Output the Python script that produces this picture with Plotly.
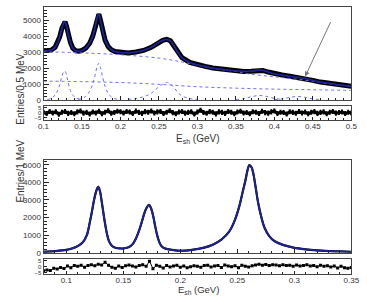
import plotly.graph_objects as go

# ---------------- top panel (0.5 MeV bins) ----------------
top_E = [0.100, 0.105, 0.110, 0.115, 0.118, 0.121, 0.124, 0.1265, 0.128, 0.130, 0.132, 0.135, 0.138,
         0.142, 0.146, 0.150, 0.155, 0.160, 0.164, 0.167, 0.170, 0.172, 0.174, 0.177, 0.180, 0.184,
         0.188, 0.193, 0.200, 0.210, 0.220, 0.230, 0.240, 0.248, 0.255, 0.260, 0.265, 0.270, 0.275,
         0.280, 0.290, 0.300, 0.310, 0.320, 0.330, 0.340, 0.350, 0.360, 0.370, 0.378, 0.385, 0.392,
         0.400, 0.410, 0.420, 0.430, 0.440, 0.450, 0.460, 0.470, 0.480, 0.490, 0.500]
top_counts = [3100, 3080, 3120, 3300, 3550, 3950, 4500, 4850, 4900, 4600, 4100, 3600, 3250,
              3080, 3050, 3100, 3250, 3550, 4000, 4550, 5200, 5380, 5000, 4300, 3750, 3350,
              3150, 3030, 2970, 2950, 3000, 3100, 3300, 3550, 3730, 3800, 3700, 3350, 2950,
              2650, 2350, 2200, 2100, 2000, 1930, 1870, 1820, 1790, 1800, 1860, 1850, 1750,
              1640, 1560, 1480, 1420, 1350, 1230, 1120, 1050, 980, 920, 860]

bkg_E = [0.10, 0.15, 0.20, 0.25, 0.28, 0.30, 0.32, 0.35, 0.364, 0.40, 0.44, 0.47, 0.50]
bkg_total = [3020, 2950, 2830, 2620, 2380, 2180, 1980, 1780, 1650, 1450, 1240, 1020, 850]

bkg2_E = [0.10, 0.15, 0.20, 0.25, 0.30, 0.35, 0.40, 0.45, 0.50]
bkg2 = [1180, 1150, 1090, 980, 830, 740, 680, 640, 600]

pk1_E = [0.105, 0.110, 0.115, 0.118, 0.121, 0.124, 0.1265, 0.128, 0.130, 0.132, 0.135, 0.138, 0.142, 0.146, 0.150]
pk1 = [30, 100, 300, 550, 950, 1500, 1780, 1800, 1550, 1100, 600, 300, 130, 60, 30]
pk2_E = [0.145, 0.150, 0.155, 0.160, 0.164, 0.167, 0.170, 0.172, 0.174, 0.177, 0.180, 0.184, 0.188, 0.193, 0.200]
pk2 = [40, 90, 230, 550, 1000, 1550, 2150, 2300, 2050, 1400, 850, 420, 200, 80, 30]
pk3_E = [0.210, 0.220, 0.230, 0.240, 0.248, 0.255, 0.260, 0.265, 0.270, 0.275, 0.280, 0.290, 0.300]
pk3 = [40, 90, 200, 420, 750, 1000, 1100, 1000, 750, 450, 250, 90, 40]
pk4_E = [0.35, 0.36, 0.37, 0.38, 0.39, 0.40, 0.41]
pk4 = [20, 80, 200, 280, 220, 100, 30]
pk5_E = [0.40, 0.41, 0.42, 0.43, 0.44, 0.45, 0.46]
pk5 = [20, 70, 160, 220, 170, 70, 20]

top_res_E = [0.100 + 0.004 * i for i in range(101)]
top_res = [0.5, -0.8, 1.2, -0.3, 0.9, -1.5, 0.4, 1.1, -0.6, 0.2, -1.0, 0.8, 1.6, -0.4, 0.3, -1.2, 0.7,
           -0.2, 1.3, -0.9, 0.5, 1.8, -0.5, 0.2, 1.4, 0.9, -0.3, 1.1, 0.6, -0.8, 1.5, 0.3, -0.6, 1.0,
           0.4, 1.7, -0.2, 0.8, 1.2, -0.7, 0.5, 1.9, 0.1, -0.9, 0.6, 1.1, -0.4, 0.3, 0.9, -1.3, 0.7,
           2.4, 0.2, -0.5, 1.0, 0.4, -1.1, 0.8, 0.3, -0.6, 1.2, 0.5, -0.9, 0.6, 1.4, -0.3, 0.2, -1.0,
           0.9, 0.4, -0.7, 1.3, 0.1, -0.4, 0.8, 1.6, -0.8, 0.5, 0.2, -1.2, 0.9, 0.3, -0.5, 1.1, -0.2,
           0.6, -1.0, 0.4, 1.0, -0.6, 0.3, 0.8, -0.9, 0.5, 1.2, -0.4, 0.2, 0.7, -0.8, 0.4, -0.3]

# ---------------- bottom panel (1 MeV bins) ----------------
bot_E = [0.080, 0.090, 0.100, 0.105, 0.110, 0.1145, 0.118, 0.1205, 0.1225, 0.1245, 0.1265, 0.128,
         0.1295, 0.1313, 0.1335, 0.1355, 0.1375, 0.140, 0.143, 0.147, 0.151, 0.155, 0.158, 0.161,
         0.1635, 0.166, 0.168, 0.170, 0.1725, 0.1745, 0.1763, 0.178, 0.1795, 0.1815, 0.1835, 0.187,
         0.193, 0.200, 0.210, 0.220, 0.229, 0.236, 0.243, 0.2475, 0.2516, 0.2545, 0.2571, 0.259,
         0.2606, 0.2625, 0.2642, 0.266, 0.2684, 0.271, 0.274, 0.278, 0.2825, 0.290, 0.2993, 0.310,
         0.320, 0.327, 0.340, 0.350]
bot_counts = [60, 100, 170, 250, 380, 600, 1000, 1700, 2350, 3050, 3550, 3750,
              3500, 2800, 1850, 1130, 650, 400, 290, 250, 260, 330, 480, 800,
              1200, 1700, 2150, 2500, 2720, 2500, 2060, 1500, 1050, 620, 380, 240,
              170, 120, 170, 280, 480, 750, 1220, 1800, 2610, 3400, 4100, 4700,
              4980, 4850, 4450, 3750, 2800, 2050, 1410, 950, 670, 450, 300, 200,
              140, 110, 80, 60]

bot_res_E = [0.080 + 0.003 * i for i in range(91)]
bot_res = [-3.5, -2.8, -3.2, -1.5, -2.0, -0.8, -1.6, 0.5, -0.9, 0.8, 0.2, 1.0, -0.5, 0.9, 1.4,
           0.6, 2.0, 1.2, 3.5, 1.0, -0.6, -1.5, 0.4, -0.8, 0.6, 1.2, 0.5, -0.3, 0.9, 1.5,
           0.2, 4.5, -1.8, 1.0, 0.3, -1.2, 0.8, -0.4, 0.5, 1.0, -0.6, 0.4, -0.9, -0.2, 0.6,
           0.3, -0.5, 0.8, 1.1, -0.3, 0.5, 0.9, -0.8, 1.2, 0.4, -0.2, 0.7, -0.9, 1.0, 0.2,
           -0.4, 0.6, 1.3, 2.0, 1.1, 1.8, 0.9, 1.5, 1.2, 0.6, 1.4, 0.8, 1.0, 0.3, 1.2,
           0.5, 0.9, 1.6, 0.4, 0.8, -0.2, 1.1, 0.3, 0.7, -0.4, 0.5, -1.2, 0.2, -0.9, -1.5, -0.8]

# ---------------- styling ----------------
FIT = "#1c2394"
COMP = "#6f6ff0"
FONT = "Liberation Sans"

fig = go.Figure()

# top main
fig.add_trace(go.Scatter(x=top_E, y=top_counts, mode="lines", line=dict(color="black", width=5),
                         xaxis="x", yaxis="y", hoverinfo="skip"))
for xs, ys in [(bkg_E, bkg_total), (bkg2_E, bkg2), (pk1_E, pk1), (pk2_E, pk2), (pk3_E, pk3),
               (pk4_E, pk4), (pk5_E, pk5)]:
    fig.add_trace(go.Scatter(x=xs, y=ys, mode="lines", line=dict(color=COMP, width=1, dash="dot"),
                             line_shape="spline", xaxis="x", yaxis="y"))
fig.add_trace(go.Scatter(x=top_E, y=top_counts, mode="lines", line=dict(color=FIT, width=1.8),
                         line_shape="spline", xaxis="x", yaxis="y"))

# top residual
fig.add_trace(go.Scatter(x=top_res_E, y=top_res, mode="lines+markers",
                         line=dict(color="black", width=3), marker=dict(color="black", size=3),
                         error_y=dict(type="constant", value=2.4, color="black", thickness=2, width=0),
                         xaxis="x2", yaxis="y2"))

# bottom main
fig.add_trace(go.Scatter(x=bot_E, y=bot_counts, mode="lines", line=dict(color="black", width=2.2),
                         line_shape="spline", xaxis="x3", yaxis="y3"))
fig.add_trace(go.Scatter(x=bot_E, y=bot_counts, mode="lines", line=dict(color=FIT, width=1.8),
                         line_shape="spline", xaxis="x3", yaxis="y3"))

# bottom residual
fig.add_trace(go.Scatter(x=bot_res_E, y=bot_res, mode="lines+markers",
                         line=dict(color="black", width=1), marker=dict(color="black", size=3, symbol="square"),
                         error_y=dict(type="constant", value=0.8, color="black", thickness=1, width=0),
                         xaxis="x4", yaxis="y4"))

XD = [39 / 367, 359 / 367]
def py(top, bot):
    return [1 - bot / 299, 1 - top / 299]

ax_common = dict(showline=True, linecolor="#444", linewidth=1, mirror=True, ticks="inside",
                 tickcolor="#222", showgrid=False, zeroline=False,
                 tickfont=dict(family=FONT, size=8, color="#333"))
ax_small = {k: v for k, v in ax_common.items() if k != "tickfont"}

fig.update_layout(
    width=367, height=299, margin=dict(l=0, r=0, t=0, b=0),
    paper_bgcolor="white", plot_bgcolor="white", showlegend=False,
    xaxis=dict(domain=XD, anchor="y", range=[0.1, 0.5], dtick=0.05, ticklen=4, showticklabels=False,
               minor=dict(dtick=0.01, ticks="inside", ticklen=2, tickcolor="#222"), **ax_common),
    yaxis=dict(domain=py(6, 101), anchor="x", range=[0, 5830], dtick=1000, ticklen=5,
               minor=dict(dtick=200, ticks="inside", ticklen=3, tickcolor="#222"), **ax_common),
    xaxis2=dict(domain=XD, anchor="y2", range=[0.1, 0.5], dtick=0.05, ticklen=3, ticklabelstandoff=-1,
                minor=dict(dtick=0.01, ticks="inside", ticklen=2, tickcolor="#222"), **ax_common),
    yaxis2=dict(domain=py(107, 121), anchor="x2", range=[-6.5, 6.5], tickvals=[-5, 0, 5], ticklen=3,
                tickfont=dict(family=FONT, size=6, color="#333"), **ax_small),
    xaxis3=dict(domain=XD, anchor="y3", range=[0.08, 0.35], dtick=0.05, tick0=0.1, ticklen=4,
                showticklabels=False,
                minor=dict(dtick=0.01, ticks="inside", ticklen=2, tickcolor="#222"), **ax_common),
    yaxis3=dict(domain=py(162, 257), anchor="x3", range=[0, 5280], dtick=1000, ticklen=5,
                minor=dict(dtick=200, ticks="inside", ticklen=3, tickcolor="#222"), **ax_common),
    xaxis4=dict(domain=XD, anchor="y4", range=[0.08, 0.35], dtick=0.05, tick0=0.1, ticklen=3,
                ticklabelstandoff=-2,
                minor=dict(dtick=0.01, ticks="inside", ticklen=2, tickcolor="#222"), **ax_common),
    yaxis4=dict(domain=py(263, 279), anchor="x4", range=[-6.5, 6.5], tickvals=[-5, 0, 5], ticklen=3,
                tickfont=dict(family=FONT, size=6, color="#333"), **ax_small),
)

# axis titles
fig.add_annotation(x=7 / 367, y=1 - 52 / 299, xref="paper", yref="paper", text="Entries/0.5 MeV",
                   textangle=-90, showarrow=False, font=dict(family=FONT, size=10, color="#333"))
fig.add_annotation(x=7 / 367, y=1 - 208 / 299, xref="paper", yref="paper", text="Entries/1 MeV",
                   textangle=-90, showarrow=False, font=dict(family=FONT, size=10, color="#333"))
fig.add_annotation(x=200 / 367, y=1 - 133 / 299, xref="paper", yref="paper", yanchor="top",
                   text="E<sub>sh</sub> (GeV)", showarrow=False,
                   font=dict(family=FONT, size=10, color="#333"))
fig.add_annotation(x=200 / 367, y=0, xref="paper", yref="paper", yanchor="bottom", yshift=-3,
                   text="E<sub>sh</sub> (GeV)", showarrow=False, borderpad=0,
                   font=dict(family=FONT, size=9.5, color="#333"))

# arrow
fig.add_annotation(x=0.44, y=1470, ax=0.474, ay=4970, xref="x", yref="y", axref="x", ayref="y",
                   text="", showarrow=True, arrowhead=2, arrowsize=1, arrowwidth=1, arrowcolor="#777")

fig.write_html("out.html")
